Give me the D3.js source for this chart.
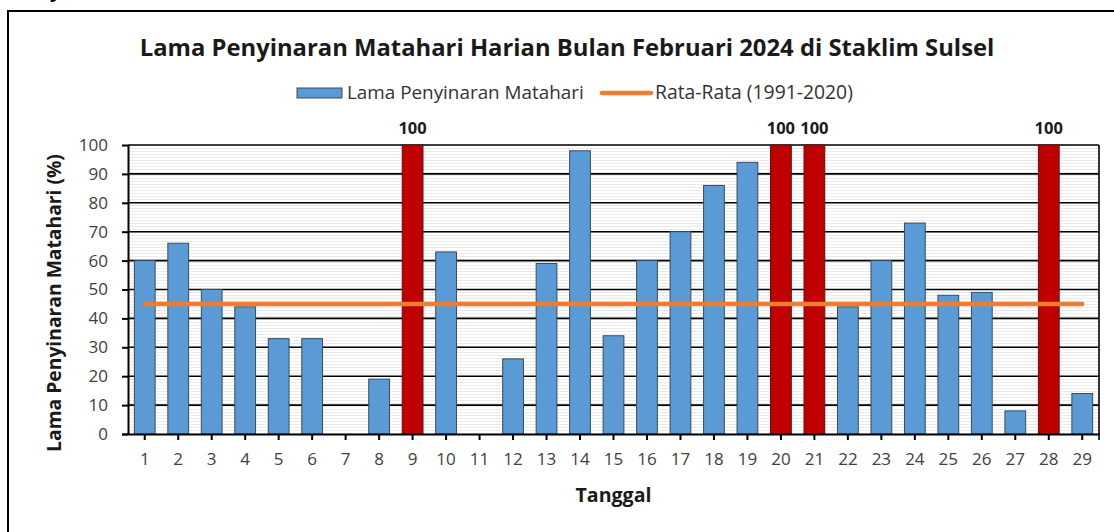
<!DOCTYPE html>
<html>
<head>
<meta charset="utf-8">
<script src="https://cdn.jsdelivr.net/npm/d3@7"></script>
<style>
  html, body { margin: 0; padding: 0; background: #fff; }
  svg { display: block; font-family: "Open Sans", "Noto Sans", sans-serif; }
</style>
</head>
<body>
<svg id="chart" width="1114" height="532"></svg>
<script>
// data
const days = d3.range(1, 30).map(String);
const sunshine = [60, 66, 50, 44, 33, 33, 0, 19, 100, 63, 0, 26, 59, 98, 34, 60, 70, 86, 94, 100, 100, 44, 60, 73, 48, 49, 8, 100, 14];
const normal = [45, 45, 45, 45, 45, 45, 45, 45, 45, 45, 45, 45, 45, 45, 45, 45, 45, 45, 45, 45, 45, 45, 45, 45, 45, 45, 45, 45, 45];
const yTicks = [0, 10, 20, 30, 40, 50, 60, 70, 80, 90, 100];

const titleText = "Lama Penyinaran Matahari Harian Bulan Februari 2024 di Staklim Sulsel";
const seriesNames = ["Lama Penyinaran Matahari", "Rata-Rata (1991-2020)"];

const BLUE = "#5b9bd5";
const RED = "#c00000";
const ORANGE = "#ed7d31";

const svg = d3.select("#chart");
const plot = { left: 128, right: 1099, top: 145, bottom: 434 };

// shrink/grow a text to a target width (Calibri is not installed)
function fitWidth(sel, target) {
  const node = sel.node();
  const fs = parseFloat(sel.attr("font-size"));
  const w = node.getComputedTextLength();
  if (w > 0) sel.attr("font-size", (fs * target / w).toFixed(2));
  return sel;
}

// cut-off text from the page above the chart
svg.append("text")
  .attr("x", 50).attr("y", -3)
  .attr("font-size", 20).attr("font-weight", "bold")
  .text("y");

// outer frame
svg.append("rect")
  .attr("x", 8).attr("y", 11)
  .attr("width", 1120).attr("height", 540)
  .attr("fill", "none").attr("stroke", "#000").attr("stroke-width", 2);

// striped plot background
const defs = svg.append("defs");
const pat = defs.append("pattern")
  .attr("id", "stripes")
  .attr("patternUnits", "userSpaceOnUse")
  .attr("width", 8).attr("height", 3);
pat.append("rect").attr("width", 8).attr("height", 3).attr("fill", "#fff");
pat.append("rect").attr("y", 1).attr("width", 8).attr("height", 1).attr("fill", "#ebebeb");

const x = d3.scaleBand()
  .domain(days)
  .range([plot.left, plot.right])
  .paddingInner(0.38)
  .paddingOuter(0.19);

const y = d3.scaleLinear()
  .domain([0, 100])
  .range([plot.bottom, plot.top]);

svg.append("rect")
  .attr("x", plot.left).attr("y", plot.top)
  .attr("width", plot.right - plot.left)
  .attr("height", plot.bottom - plot.top)
  .attr("fill", "url(#stripes)");

// gridlines
svg.append("g")
  .selectAll("line")
  .data(yTicks.filter((d) => d > 0))
  .join("line")
  .attr("x1", plot.left).attr("x2", plot.right)
  .attr("y1", (d) => y(d)).attr("y2", (d) => y(d))
  .attr("stroke", "#000").attr("stroke-width", 1.6);

// right border of plot area
svg.append("line")
  .attr("x1", plot.right).attr("x2", plot.right)
  .attr("y1", plot.top).attr("y2", plot.bottom + 6)
  .attr("stroke", "#000").attr("stroke-width", 1.6);

// bars
const data = days.map((d, i) => ({ day: d, value: sunshine[i] }));

svg.append("g")
  .selectAll("rect")
  .data(data.filter((d) => d.value > 0))
  .join("rect")
  .attr("x", (d) => x(d.day))
  .attr("y", (d) => y(d.value))
  .attr("width", x.bandwidth())
  .attr("height", (d) => y(0) - y(d.value))
  .attr("fill", (d) => (d.value >= 100 ? RED : BLUE))
  .attr("stroke", (d) => (d.value >= 100 ? "#5a1010" : "#3a4a5a"))
  .attr("stroke-width", 1);

// labels for full-sun days
svg.append("g")
  .selectAll("text")
  .data(data.filter((d) => d.value >= 100))
  .join("text")
  .attr("x", (d) => x(d.day) + x.bandwidth() / 2)
  .attr("y", (d) => y(d.value) - 11)
  .attr("text-anchor", "middle")
  .attr("font-size", 16.5).attr("font-weight", "bold")
  .attr("fill", "#1a1a1a")
  .text((d) => d.value);

// average line
const line = d3.line()
  .x((d, i) => x(days[i]) + x.bandwidth() / 2)
  .y((d) => y(d));

svg.append("path")
  .datum(normal)
  .attr("d", line)
  .attr("fill", "none")
  .attr("stroke", ORANGE)
  .attr("stroke-width", 4.5)
  .attr("stroke-linecap", "round");

// axes
const yAxis = svg.append("g")
  .attr("transform", `translate(${plot.left},0)`)
  .call(d3.axisLeft(y).tickValues(yTicks).tickSize(6).tickPadding(14).tickSizeOuter(0));

const xAxis = svg.append("g")
  .attr("transform", `translate(0,${plot.bottom})`)
  .call(d3.axisBottom(x).tickSize(6).tickPadding(13).tickSizeOuter(0));

[yAxis, xAxis].forEach((ax) => {
  ax.select(".domain").attr("stroke", "#000").attr("stroke-width", 2);
  ax.selectAll(".tick line").attr("stroke", "#000").attr("stroke-width", 2);
  ax.selectAll(".tick text")
    .attr("font-size", 17)
    .attr("font-family", "'Open Sans', 'Noto Sans', sans-serif")
    .attr("fill", "#404040");
});
xAxis.select(".domain").attr("d", `M${plot.left - 6},0.5H${plot.right + 1}`);
yAxis.select(".domain").attr("d", `M0.5,${plot.top}V${plot.bottom}`);

// title
fitWidth(svg.append("text")
  .attr("x", 567).attr("y", 56)
  .attr("text-anchor", "middle")
  .attr("font-size", 20).attr("font-weight", "bold")
  .attr("fill", "#1a1a1a")
  .text(titleText), 855);

// legend
const legend = svg.append("g");
legend.append("rect")
  .attr("x", 297).attr("y", 88).attr("width", 45).attr("height", 10)
  .attr("fill", BLUE).attr("stroke", "#3a4a5a").attr("stroke-width", 1);
fitWidth(legend.append("text").attr("x", 347).attr("y", 99)
  .attr("font-size", 16).attr("fill", "#333").text(seriesNames[0]), 237);
legend.append("line")
  .attr("x1", 602).attr("x2", 651).attr("y1", 93).attr("y2", 93)
  .attr("stroke", ORANGE).attr("stroke-width", 4.5).attr("stroke-linecap", "round");
fitWidth(legend.append("text").attr("x", 655).attr("y", 99)
  .attr("font-size", 16).attr("fill", "#333").text(seriesNames[1]), 198);

// axis titles
fitWidth(svg.append("text")
  .attr("x", (plot.left + plot.right) / 2).attr("y", 502)
  .attr("text-anchor", "middle")
  .attr("font-size", 17).attr("font-weight", "bold")
  .attr("fill", "#1a1a1a")
  .text("Tanggal"), 76);

fitWidth(svg.append("text")
  .attr("transform", "translate(61,303) rotate(-90)")
  .attr("text-anchor", "middle")
  .attr("font-size", 17).attr("font-weight", "bold")
  .attr("fill", "#1a1a1a")
  .text("Lama Penyinaran Matahari (%)"), 298);
</script>
</body>
</html>
